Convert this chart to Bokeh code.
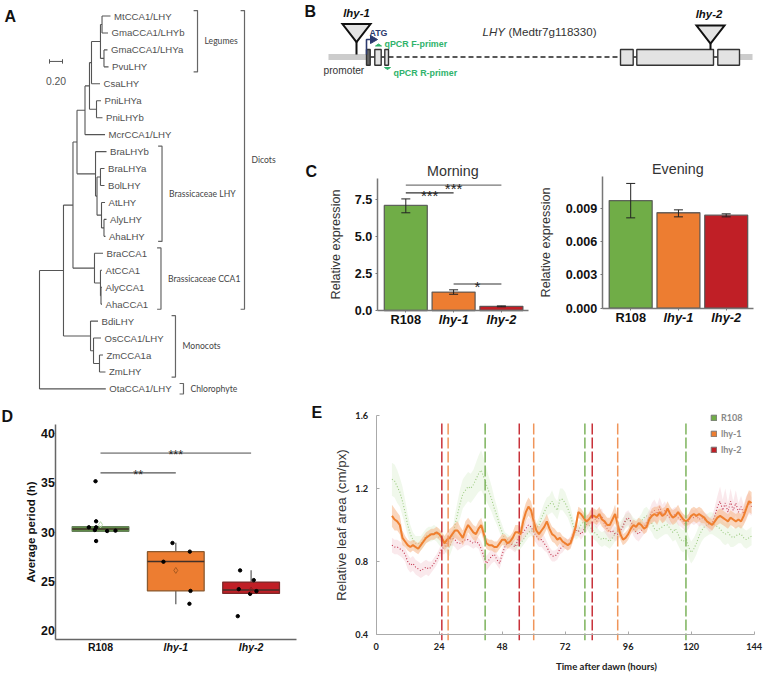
from bokeh.plotting import figure
from bokeh.layouts import column, row
from bokeh.models import (ColumnDataSource, Range1d, FixedTicker, Whisker, TeeHead,
                          Legend, LegendItem)
from bokeh.core.properties import value
from bokeh.embed import file_html
from bokeh.resources import INLINE

SANS = "Liberation Sans"
GREEN, ORANGE, RED = "#70ad47", "#ed7d31", "#c01f26"
COLORS = [GREEN, ORANGE, RED]
GENOTYPES = ["R108", "lhy-1", "lhy-2"]
POS = [1, 2, 3]

# ---- Panel A: tree as (label, distance from root, children)
TREE = ("", 0.0, [
    ("", .369, [
        ("", .515, [
            ("", .577, [
                ("", .700, [
                    ("", .769, [
                        ("", .800, [
                            ("", .938, [
                                ("", .962, [("MtCCA1/LHY", 1.092, []), ("GmaCCA1/LHYb", 1.054, [])]),
                                ("", .992, [("GmaCCA1/LHYa", 1.046, []), ("PvuLHY", 1.062, [])]),
                            ]),
                            ("CsaLHY", .931, []),
                        ]),
                        ("", .877, [("PniLHYa", .946, []), ("PniLHYb", .969, [])]),
                    ]),
                    ("McrCCA1/LHY", 1.008, []),
                ]),
                ("", .862, [
                    ("BraLHYb", 1.031, []),
                    ("", .885, [
                        ("", .938, [("BraLHYa", 1.0, []), ("BolLHY", 1.0, [])]),
                        ("", .954, [
                            ("AtLHY", 1.008, []),
                            ("", .992, [("AlyLHY", 1.031, []), ("AhaLHY", 1.015, [])]),
                        ]),
                    ]),
                ]),
            ]),
            ("", .846, [
                ("BraCCA1", .977, []),
                ("", .938, [
                    ("AtCCA1", .962, []),
                    ("", .946, [("AlyCCA1", .962, []), ("AhaCCA1", .962, [])]),
                ]),
            ]),
        ]),
        ("", .785, [
            ("BdiLHY", .900, []),
            ("", .831, [
                ("OsCCA1/LHY", .946, []),
                ("", .923, [("ZmCCA1a", .977, []), ("ZmLHY", 1.015, [])]),
            ]),
        ]),
    ]),
    ("OtaCCA1/LHY", 1.02, []),
])
GROUP_NAMES = ["Legumes", "Dicots", "Brassicaceae LHY", "Brassicaceae CCA1", "Monocots", "Chlorophyte"]
GROUP_FIRST = [0, 0, 8, 14, 18, 22]
GROUP_LAST = [3, 17, 13, 17, 21, 22]
GROUP_X = [2.431, 3.154, 1.885, 1.869, 2.092, 2.215]
SCALE_BAR = 0.20

# ---- Panel B: gene model (schematic units along the locus)
LOCUS_END = 424
PROMOTER_END = 38
EXON_START = [38, 46.3, 56.3, 292, 308.3, 389.3]
EXON_END = [41.7, 52.7, 60, 304.7, 385, 411]
INTRON_DASHED = [60, 292]
INSERTION_POS = [28, 382]

# ---- Panel C
MORNING = [7.12, 1.25, 0.28]
MORNING_UP = [7.56, 1.40, 0.31]
MORNING_LOW = [6.62, 1.10, 0.25]
EVENING = [0.0097, 0.0086, 0.00838]
EVENING_UP = [0.01124, 0.00886, 0.0085]
EVENING_LOW = [0.00814, 0.00823, 0.00823]

# ---- Panel D
Q1 = [30.07, 24.0, 23.75]
MEDIAN = [30.3, 27.0, 24.1]
Q3 = [30.54, 28.0, 24.9]
WHISK_LOW = [30.07, 22.65, 23.75]
WHISK_UP = [30.54, 28.9, 26.1]
MEANS = [30.75, 26.09, 24.08]
PTS_X = [.934, .942, .942, .845, .925, .942, 1.088, 1.199,
         1.956, 2.186, 1.836, 2.195, 2.181,
         2.854, 3.035, 2.836, 3.071, 2.987, 2.823]
PTS_Y = [35.17, 31.09, 29.08, 30.48, 30.2, 30.48, 30.1, 30.14,
         28.88, 28.0, 26.97, 24.0, 22.69,
         26.09, 25.1, 24.18, 23.98, 23.7, 21.43]

# ---- Panel E
HOURS = list(range(6, 144))
E_ORANGE = [1.05,1.03,1.02,1.00,.93,.91,.89,.88,.89,.88,
            .87,.89,.91,.93,.94,.95,.95,.96,.95,.93,
            .90,.92,.93,.95,.97,.97,.95,.93,.97,1.00,
            .98,.96,.95,.98,1.0,.95,.90,.89,.89,.88,
            .88,.90,.92,.92,.90,.91,.93,.96,.96,.95,
            1.02,1.07,1.10,1.08,1.02,.97,.95,.97,.99,1.02,
            .98,.95,.94,.92,.93,.91,.90,.89,.90,.94,
            .99,1.07,1.06,1.04,1.02,1.03,1.05,1.05,1.04,1.06,
            1.03,1.02,1.0,1.0,1.03,1.06,1.0,.95,.92,.93,
            .95,.98,1.0,.99,1.01,1.0,.98,.99,1.03,1.05,
            1.06,1.05,1.07,1.05,1.06,1.09,1.06,1.04,1.05,1.07,
            1.05,1.03,1.02,1.03,1.05,1.06,1.05,1.06,1.05,1.04,
            1.02,1.01,1.0,1.02,1.04,1.05,1.04,1.03,1.02,1.04,
            1.03,1.02,1.03,1.02,1.05,1.09,1.13,1.12]
E_RED = [.89,.88,.88,.87,.86,.84,.80,.78,.79,.77,
         .76,.75,.76,.77,.76,.77,.79,.81,.84,.87,
         .88,.90,.92,.93,.92,.90,.90,.91,.92,.92,
         .91,.90,.91,.90,.87,.83,.79,.81,.83,.84,
         .81,.79,.84,.88,.90,.90,.89,.88,.92,.95,
         .96,.98,1.0,.99,.96,.94,.92,.92,.90,.88,
         .85,.83,.83,.84,.87,.88,.90,.89,.91,.95,
         .97,.97,.95,.97,1.0,1.03,1.05,1.04,1.02,1.04,
         1.05,1.0,.98,.96,.97,.95,.95,.97,.99,1.03,
         1.04,1.02,.98,.96,.95,.97,.99,1.01,1.04,1.07,
         1.08,1.06,1.1,1.06,1.08,1.05,1.04,1.05,1.06,1.04,
         1.03,1.02,1.0,1.02,1.05,1.04,1.05,1.03,1.04,1.03,
         1.02,1.0,1.01,1.05,1.10,1.13,1.08,1.12,1.07,1.13,
         1.08,1.12,1.07,1.10,1.06,1.10,1.12,1.10]
E_GREEN = [1.25,1.24,1.21,1.18,1.13,1.07,1.0,.95,.92,.90,
           .90,.90,.92,.94,.95,.95,.96,.95,.93,.92,
           .90,.88,.88,.92,1.0,1.06,1.12,1.17,1.19,1.21,
           1.20,1.22,1.25,1.28,1.30,1.26,1.22,1.18,1.14,1.09,
           1.05,1.00,.96,.92,.92,.91,.90,.89,.89,.90,
           .92,.94,.96,.97,.96,.98,1.00,1.04,1.07,1.10,
           1.11,1.13,1.10,1.08,1.14,1.14,1.12,1.09,1.05,1.00,
           .96,.97,1.0,1.02,1.03,1.0,.98,.96,.95,.93,
           .92,.93,.92,.91,.93,.95,.97,.98,1.0,1.02,
           1.03,1.02,1.0,.99,1.0,1.02,1.04,1.05,1.03,1.01,
           .98,.97,.98,.99,1.0,1.0,.98,.96,.98,.95,
           .92,.91,.93,.88,.85,.87,.90,.94,.97,.99,
           1.0,1.01,1.01,1.0,.99,.98,.96,.95,.96,.94,
           .93,.94,.95,.95,.93,.92,.93,.94]
E_ORANGE_SE = [.06,.06,.05,.05,.04,.03,.03,.03,.03,.03,
               .03,.03,.03,.03,.03,.03,.03,.03,.03,.03,
               .04,.04,.05,.04,.04,.05,.04,.04,.05,.04,
               .04,.04,.04,.04,.04,.04,.03,.03,.03,.03,
               .03,.03,.03,.03,.03,.03,.03,.04,.04,.04,
               .05,.05,.05,.05,.04,.04,.04,.04,.04,.04,
               .04,.04,.04,.04,.03,.03,.03,.03,.03,.03,
               .03,.03,.03,.03,.03,.03,.04,.04,.04,.04,
               .04,.04,.04,.04,.04,.05,.04,.03,.03,.03,
               .03,.03,.03,.03,.03,.03,.03,.03,.03,.04,
               .04,.05,.04,.04,.04,.04,.04,.04,.04,.04,
               .03,.03,.03,.03,.04,.04,.04,.04,.04,.03,
               .03,.03,.03,.03,.04,.04,.04,.04,.04,.04,
               .04,.04,.04,.04,.05,.06,.06,.06]
E_RED_SE = [.04,.04,.04,.04,.04,.04,.04,.04,.04,.04,
            .04,.04,.04,.04,.04,.03,.03,.03,.03,.03,
            .04,.04,.04,.04,.04,.04,.03,.03,.03,.03,
            .03,.03,.03,.03,.04,.04,.04,.04,.04,.04,
            .03,.03,.03,.03,.03,.03,.03,.03,.03,.04,
            .04,.04,.04,.04,.04,.04,.04,.04,.04,.03,
            .03,.03,.03,.03,.03,.03,.03,.03,.03,.03,
            .03,.03,.03,.03,.04,.04,.04,.04,.04,.04,
            .04,.04,.04,.04,.04,.04,.03,.03,.04,.04,
            .04,.04,.04,.04,.04,.04,.04,.04,.04,.05,
            .06,.05,.05,.05,.05,.04,.04,.04,.04,.04,
            .04,.04,.04,.04,.04,.04,.04,.04,.04,.04,
            .04,.04,.04,.05,.06,.08,.06,.08,.05,.07,
            .05,.07,.05,.06,.05,.06,.06,.05]
E_GREEN_SE = [.09,.09,.09,.08,.08,.07,.06,.05,.04,.04,
              .04,.04,.04,.04,.04,.04,.04,.04,.04,.04,
              .04,.04,.05,.05,.06,.07,.08,.08,.08,.08,
              .08,.08,.09,.10,.11,.10,.09,.08,.07,.06,
              .05,.04,.04,.04,.03,.03,.03,.03,.03,.03,
              .03,.03,.03,.03,.03,.03,.04,.04,.05,.05,
              .05,.06,.05,.05,.06,.06,.06,.05,.05,.04,
              .04,.04,.04,.04,.04,.04,.04,.04,.04,.04,
              .04,.04,.04,.04,.04,.04,.04,.04,.04,.04,
              .04,.04,.04,.04,.04,.04,.05,.05,.05,.05,
              .05,.05,.05,.05,.05,.05,.05,.05,.06,.06,
              .06,.06,.06,.06,.06,.06,.06,.06,.06,.06,
              .06,.06,.06,.06,.06,.06,.06,.06,.06,.06,
              .05,.05,.05,.05,.05,.05,.05,.05]
PERIOD_GREEN = [41.5, 79.5, 118]
PERIOD_ORANGE = [27.4, 60, 92]
PERIOD_RED = [25, 54.5, 82.3]


class Panel:
    """A figure whose frame fills it, so pixel offsets map linearly onto its data ranges."""
    def __init__(self, left, top, w, h, x0_page, x0_val, x_scale, y0_page, y0_val, y_scale):
        self.left, self.top, self.w, self.h = left, top, w, h
        self.x0_page, self.x0_val, self.xs = x0_page, x0_val, x_scale
        self.y0_page, self.y0_val, self.ys = y0_page, y0_val, y_scale
        self.p = figure(width=w, height=h,
                        x_range=Range1d(self.X(left), self.X(left + w)),
                        y_range=Range1d(self.Y(top + h), self.Y(top)),
                        output_backend="svg", toolbar_location=None,
                        min_border=0, min_border_left=0, min_border_right=0,
                        min_border_top=0, min_border_bottom=0)
        self.p.grid.visible = False
        self.p.outline_line_color = None

    def X(self, px):
        return self.x0_val + (px - self.x0_page) / self.xs

    def Y(self, py):
        return self.y0_val + (self.y0_page - py) / self.ys

    def text(self, px, py, s, size, color="#333333", style="normal", font=SANS, align="left", angle=0):
        self.p.text([self.X(px)], [self.Y(py)], text=[s], text_font=value(font), text_font_size=value(size),
                    text_font_style=value(style), text_color=color, text_align=align,
                    text_baseline="middle", angle=angle)

    def letter(self, s, px, py):
        self.text(px, py, s, "16px", "#111111", "bold")

    def place_axes(self, x_left_px, x_right_px, y_bottom_px, y_top_px):
        xa, ya = self.p.xaxis[0], self.p.yaxis[0]
        xa.fixed_location = self.Y(y_bottom_px)
        ya.fixed_location = self.X(x_left_px)
        xa.bounds = (self.X(x_left_px), self.X(x_right_px))
        ya.bounds = (self.Y(y_bottom_px), self.Y(y_top_px))
        return xa, ya


def ax_style(a, color, width, tick_out=3, tick_in=0):
    a.axis_line_color = color
    a.axis_line_width = width
    a.major_tick_line_color = color
    a.major_tick_out = tick_out
    a.major_tick_in = tick_in
    a.minor_tick_line_color = None


def sig(P, x0, x1, y, stars, color, width, size, dy):
    P.p.line([x0, x1], [y, y], line_color=color, line_width=width)
    P.p.text([(x0 + x1) / 2], [y], text=[stars], text_font=value(SANS), text_font_size=value(size),
             text_color="#222222", text_align="center", text_baseline="middle", y_offset=dy)


# ==== A ====
leaves = []
seg_x0, seg_x1, seg_y0, seg_y1 = [], [], [], []


def walk(node):
    name, d, kids = node
    if not kids:
        y = len(leaves)
        leaves.append((name, d, y))
        return y
    ys = []
    for k in kids:
        ky = walk(k)
        ys.append(ky)
        seg_x0.append(d); seg_x1.append(k[1]); seg_y0.append(ky); seg_y1.append(ky)
    y = (ys[0] + ys[-1]) / 2
    seg_x0.append(d); seg_x1.append(d); seg_y0.append(ys[0]); seg_y1.append(ys[-1])
    return y


walk(TREE)
A = Panel(0, 0, 295, 400, 39, 0, 65, 15.5, 0, -16.95)
A.p.axis.visible = False
pa = A.p
pa.segment(seg_x0, seg_y0, seg_x1, seg_y1, line_color="#555555", line_width=1.1)
pa.text([l[1] for l in leaves], [l[2] for l in leaves], text=[l[0] for l in leaves],
        text_font=value(SANS), text_font_size=value("9.6px"), text_color="#505050",
        text_baseline="middle", x_offset=3.5)
for n, f, l, x in zip(GROUP_NAMES, GROUP_FIRST, GROUP_LAST, GROUP_X):
    y0, y1 = f - .32, l + .3
    pa.line([x - .06, x, x, x - .06], [y0, y0, y1, y1], line_color="#666666", line_width=1.2)
    pa.text([x], [(y0 + y1) / 2], text=[n], text_font=value("Lato"), text_font_size=value("8.6px"),
            text_color="#444444", text_baseline="middle", x_offset=7)
sb_x, sb_y = 0.154, 2.68
pa.segment([sb_x], [sb_y], [sb_x + SCALE_BAR], [sb_y], line_color="#555555", line_width=1)
pa.segment([sb_x, sb_x + SCALE_BAR], [sb_y - .13] * 2, [sb_x, sb_x + SCALE_BAR], [sb_y + .13] * 2,
           line_color="#555555", line_width=1)
pa.text([sb_x + SCALE_BAR / 2], [3.85], text=[f"{SCALE_BAR:.2f}"], text_font=value(SANS),
        text_font_size=value("10.4px"), text_color="#555555", text_align="center", text_baseline="middle")
A.letter("A", 4, 16)

# ==== B ====
B = Panel(295, 0, 468, 150, 328, 0, 1, 0, 0, -1)
B.p.axis.visible = False
pb = B.p
mid = 56.5
top, bot = 49, 64.7
pb.quad(left=[0, EXON_END[-1]], right=[PROMOTER_END, LOCUS_END], top=[mid - 3, mid - 3],
        bottom=[mid + 3, mid + 3], fill_color="#cccccc", line_color=None)
pb.segment([EXON_END[0], EXON_END[1], EXON_END[3], EXON_END[4]], [mid] * 4,
           [EXON_START[1], EXON_START[2], EXON_START[4], EXON_START[5]], [mid] * 4,
           line_color="#222222", line_width=1.3)
pb.line(INTRON_DASHED, [mid, mid], line_color="#222222", line_width=1.4, line_dash="5 3")
pb.quad(left=EXON_START, right=EXON_END, top=[top] * 6, bottom=[bot] * 6,
        fill_color=["#666666"] + ["#e3e3e3"] * 5, line_color="#333333", line_width=1.4)
for x, ytop, yend, name, tx in zip(INSERTION_POS, [23.5, 25], [54, 49], ["lhy-1", "lhy-2"], [356, 708.5]):
    pb.patch([x - 14, x + 14, x], [ytop, ytop, ytop + 18], fill_color="#e3e3e3",
             line_color="#111111", line_width=2, line_join="miter")
    pb.line([x, x], [ytop + 18, yend], line_color="#111111", line_width=2)
    B.text(tx, ytop - 11.5, name, "11.4px", "#111111", "bold italic", align="center")
NAVY = "#2c3a6e"
pb.line([38, 38, 43], [54, 39, 39], line_color=NAVY, line_width=1.6)
pb.patch([42, 42, 49], [35, 43, 39], fill_color=NAVY, line_color=NAVY)
B.text(369, 32, "ATG", "8.8px", NAVY, "bold")
PRIMER = "#2fb36b"
B.text(384, 43, "qPCR F-primer", "8.9px", PRIMER, "bold")
B.text(393, 72, "qPCR R-primer", "8.9px", PRIMER, "bold")
pb.patch([47, 53, 50], [45.5, 45.5, 43.5], fill_color=PRIMER, line_color=PRIMER)
pb.patch([56, 62, 59], [67, 67, 69], fill_color=PRIMER, line_color=PRIMER)
B.text(482, 31, "LHY", "11.6px", "#333333", "italic")
B.text(508, 31, "(Medtr7g118330)", "11.6px", "#333333")
B.text(323, 69.5, "promoter", "10.2px", "#333333")
B.letter("B", 304, 11)


# ==== C ====
def bar_panel(left, w, c1, step, y0_page, y_scale, axis_left, axis_right, axis_top, ticks, fmt, title,
              vals, up, low, tick_size, standoff):
    P = Panel(left, 150, w, 250, c1, 1, step, y0_page, 0, y_scale)
    p = P.p
    src = ColumnDataSource(dict(x=POS, top=vals, up=up, low=low, c=COLORS))
    p.vbar(x="x", top="top", bottom=0, width=0.9, fill_color="c", line_color="#4f4f4f", line_alpha=0.85,
           line_width=1.3, source=src)
    p.add_layout(Whisker(source=src, base="x", upper="up", lower="low", line_color="#222222", line_width=1,
                         level="overlay",
                         upper_head=TeeHead(size=9, line_color="#222222", line_width=1),
                         lower_head=TeeHead(size=9, line_color="#222222", line_width=1)))
    xa, ya = P.place_axes(axis_left, axis_right, y0_page, axis_top)
    ya.ticker = FixedTicker(ticks=ticks)
    ya.major_label_overrides = {t_: fmt.format(t_) for t_ in ticks}
    ya.major_label_text_font = SANS
    ya.major_label_text_font_style = "bold"
    ya.major_label_text_font_size = tick_size
    ya.major_label_text_color = "#111111"
    ya.major_label_standoff = 3
    ya.axis_label = "Relative expression"
    ya.axis_label_text_font = SANS
    ya.axis_label_text_font_style = "normal"
    ya.axis_label_text_font_size = "12.6px"
    ya.axis_label_text_color = "#333333"
    ya.axis_label_standoff = standoff
    xa.ticker = FixedTicker(ticks=POS)
    xa.major_label_overrides = {i: "" for i in POS}
    ax_style(ya, "#777777", 1.5, 2)
    ax_style(xa, "#777777", 1.5, 2)
    P.text((axis_left + axis_right) / 2, 170 if title == "Morning" else 168, title, "14.3px", "#333333", align="center")
    for i, g in zip(POS, GENOTYPES):
        P.text(c1 + (i - 1) * step, y0_page + 9, g, "12.8px", "#111111",
               "bold" if g == "R108" else "bold italic", align="center")
    return P


C1 = bar_panel(295, 240, 405.3, 47.8, 310, 14.76, 376.7, 528, 178, [0, 2.5, 5, 7.5], "{:.1f}", "Morning",
               MORNING, MORNING_UP, MORNING_LOW, "12.6px", 9)
sig(C1, 1, 3, 8.49, "***", "#777777", 1.3, "15px", 3)
sig(C1, 1, 2, 7.97, "***", "#333333", 1.1, "15px", 3)
sig(C1, 2, 3, 1.8, "*", "#333333", 1.1, "15px", 3)
C1.letter("C", 305, 171)
C2 = bar_panel(535, 228, 630.2, 47.75, 307.7, 11100, 601.7, 753, 176, [0, .003, .006, .009], "{:.3f}", "Evening",
               EVENING, EVENING_UP, EVENING_LOW, "12.6px", 10)

# ==== D ====
D = Panel(0, 400, 300, 274, 100, 1, 75.3, 629.7, 20, 9.82)
pd_ = D.p
pd_.segment(POS, WHISK_LOW, POS, WHISK_UP, line_color="#666666", line_width=1.3)
pd_.vbar(x=POS, bottom=Q1, top=Q3, width=0.753, fill_color=["#5f8f45", ORANGE, RED],
         line_color=["#66805a", "#8a5a30", "#7a2a2a"], line_width=1.3)
box_half = 0.753 / 2
pd_.segment([x - box_half for x in POS], MEDIAN, [x + box_half for x in POS], MEDIAN,
            line_color="#40302a", line_width=1.5)
pd_.scatter(PTS_X, PTS_Y, size=3.4, color="#000000")
pd_.scatter(POS, MEANS, marker="diamond", size=6, fill_color=None,
            line_color=["#b8d8a8", "#a85a20", "#8a1a1a"], line_width=1)
sig(D, 1, 3, 38.03, "***", "#999999", 1.6, "12.5px", 2)
sig(D, 1, 2, 36.02, "**", "#555555", 1.2, "12.5px", 2)
xa, ya = D.place_axes(55.3, 295.7, 639, 424)
ya.ticker = FixedTicker(ticks=[20, 25, 30, 35, 40])
ya.major_label_text_font = SANS
ya.major_label_text_font_style = "bold"
ya.major_label_text_font_size = "12.3px"
ya.major_label_text_color = "#111111"
ya.major_label_standoff = 0
ya.axis_label = "Average period (h)"
ya.axis_label_text_font = SANS
ya.axis_label_text_font_style = "bold"
ya.axis_label_text_font_size = "11.5px"
ya.axis_label_text_color = "#111111"
ya.axis_label_standoff = 1
xa.ticker = FixedTicker(ticks=POS)
xa.major_label_overrides = {i: "" for i in POS}
ax_style(ya, "#666666", 1.5, 1)
ax_style(xa, "#666666", 1.5, 1)
for i, g in zip(POS, GENOTYPES):
    D.text(100 + (i - 1) * 75.3, 646.7, g, "10.5px", "#111111", "bold" if g == "R108" else "bold italic", align="center")
D.letter("D", 1, 416)

# ==== E ====
E = Panel(300, 400, 463, 274, 375.7, 0, 2.625, 634.3, 0.4, 183)
pe = E.p
series = [(E_GREEN, E_GREEN_SE, "#cfe8c0", "#9ccb80", .32, 1.1, "1 2"),
          (E_RED, E_RED_SE, "#eeb0bc", "#c0304a", .28, 1.1, "1 2"),
          (E_ORANGE, E_ORANGE_SE, "#f6b487", "#ef7f2f", .55, 2, "solid")]
for vals, se, band, line, a, lw, dash in series:
    pe.varea(HOURS, [v - s for v, s in zip(vals, se)], [v + s for v, s in zip(vals, se)],
             fill_color=band, fill_alpha=a)
    pe.line(HOURS, vals, line_color=line, line_width=lw, line_dash=dash)
for xs, c in [(PERIOD_GREEN, "#7db35c"), (PERIOD_ORANGE, "#f0955a"), (PERIOD_RED, "#c8323a")]:
    pe.segment(xs, [1.555] * 3, xs, [0.37] * 3, line_color=c, line_width=1.5, line_dash="11 3")
xa, ya = E.place_axes(375.7, 753.7, 634.3, 414.7)
ya.ticker = FixedTicker(ticks=[.4, .8, 1.2, 1.6])
ya.major_label_overrides = {.4: "0.4", .8: "0.8", 1.2: "1.2", 1.6: "1.6"}
ya.axis_label = "Relative leaf area (cm/px)"
ya.axis_label_text_font = SANS
ya.axis_label_text_font_style = "normal"
ya.axis_label_text_font_size = "13.3px"
ya.axis_label_text_color = "#333333"
ya.axis_label_standoff = 4
xa.ticker = FixedTicker(ticks=[0, 24, 48, 72, 96, 120, 144])
for a in (ya, xa):
    a.major_label_text_font = "Lato"
    a.major_label_text_font_style = "bold"
    a.major_label_text_font_size = "9.2px"
    a.major_label_text_color = "#222222"
    a.major_label_standoff = 8
    ax_style(a, "#aaaaaa", 1, 0, 3)
E.text(606, 665.5, "Time after dawn (hours)", "9.6px", "#222222", "bold", "Lato", "center")
items = []
for g, c in zip(GENOTYPES, COLORS):
    r = pe.quad(left=[-1000], right=[-999], bottom=[-1000], top=[-999], fill_color=c, line_color="#777777")
    items.append(LegendItem(label=value(g), renderers=[r]))
leg = Legend(items=items, location=(410, 219), margin=0, padding=0, spacing=5, glyph_height=7, glyph_width=7,
             label_standoff=4, label_text_font="Lato", label_text_font_style="bold", label_text_font_size="9px",
             label_text_color="#888888", background_fill_alpha=0, border_line_alpha=0, label_height=8)
pe.add_layout(leg)
E.letter("E", 311, 412)

layout = column(
    row(A.p, column(B.p, row(C1.p, C2.p))),
    row(D.p, E.p),
)
open("out.html", "w").write(file_html(layout, INLINE))
